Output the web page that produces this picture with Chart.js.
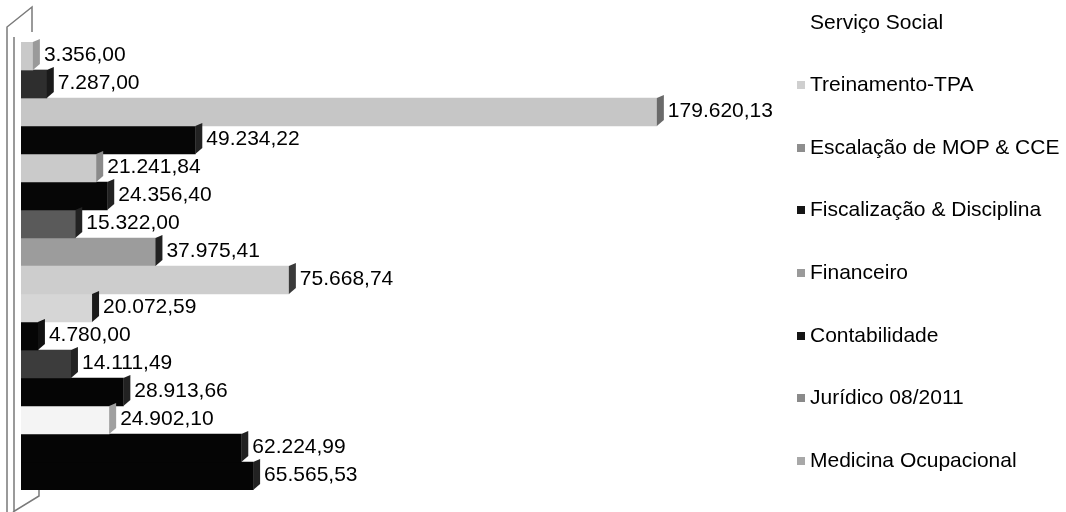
<!DOCTYPE html>
<html>
<head>
<meta charset="utf-8">
<script src="https://cdn.jsdelivr.net/npm/chart.js@4/dist/chart.umd.min.js"></script>
<style>
  body { margin: 0; background: #fff; }
  #wrap { position: relative; width: 1066px; height: 512px; }
  #legend { position: absolute; left: 0; top: 0; font: 21px "Liberation Sans", Arial, sans-serif; color: #000; }
  #legend .row { position: absolute; left: 797px; height: 24px; line-height: 24px; white-space: nowrap; display: flex; align-items: center; }
  #legend .box { width: 8px; height: 8px; margin-right: 5px; margin-top: 2px; }
</style>
</head>
<body>
<div id="wrap">
  <canvas id="chart" width="1066" height="512"></canvas>
  <div id="legend"></div>
</div>
<script>
// two periods (axis labels are not shown in the original)
const categories = ['1', '2'];

const seriesNames = [
  'Serviço Social',
  'Treinamento-TPA',
  'Escalação de MOP & CCE',
  'Fiscalização & Disciplina',
  'Financeiro',
  'Contabilidade',
  'Jurídico 08/2011',
  'Medicina Ocupacional'
];

// one value per period, per series
const servicoSocial   = [3356.00, 75668.74];
const treinamento     = [7287.00, 20072.59];
const escalacao       = [179620.13, 4780.00];
const fiscalizacao    = [49234.22, 14111.49];
const financeiro      = [21241.84, 28913.66];
const contabilidade   = [24356.40, 24902.10];
const juridico        = [15322.00, 62224.99];
const medicina        = [37975.41, 65565.53];

const seriesValues = [servicoSocial, treinamento, escalacao, fiscalizacao,
                      financeiro, contabilidade, juridico, medicina];

// grey shades as they come out in the scan, per bar
const barColors = [
  ['#c9c9c9', '#cdcdcd'],
  ['#2e2e2e', '#d6d6d6'],
  ['#c6c6c6', '#050505'],
  ['#060606', '#3c3c3c'],
  ['#cacaca', '#050505'],
  ['#060606', '#f4f4f4'],
  ['#5a5a5a', '#050505'],
  ['#9c9c9c', '#050505']
];
const sideColors = [
  ['#9a9a9a', '#3a3a3a'],
  ['#1a1a1a', '#1a1a1a'],
  ['#6a6a6a', '#111111'],
  ['#222222', '#222222'],
  ['#8a8a8a', '#222222'],
  ['#222222', '#a0a0a0'],
  ['#222222', '#222222'],
  ['#222222', '#222222']
];
const legendColors = ['#ffffff', '#cfcfcf', '#8e8e8e', '#151515', '#9a9a9a', '#151515', '#8a8a8a', '#a8a8a8'];

function fmt(v) {
  const parts = v.toFixed(2).split('.');
  return parts[0].replace(/\B(?=(\d{3})+(?!\d))/g, '.') + ',' + parts[1];
}

// thin 3D wall on the left of the plot
const wallPlugin = {
  id: 'wall',
  beforeDatasetsDraw(chart) {
    const { ctx, chartArea: a } = chart;
    ctx.save();
    ctx.strokeStyle = '#7a7a7a';
    ctx.lineWidth = 1.5;
    const l = a.left - 14, r = a.left - 7;
    ctx.beginPath();
    ctx.moveTo(l, a.bottom + 22);
    ctx.lineTo(l, a.top - 15);
    ctx.lineTo(a.left + 11, a.top - 35);
    ctx.lineTo(a.left + 11, a.top - 10);
    ctx.moveTo(r, a.bottom + 22);
    ctx.lineTo(r, a.top - 5);
    ctx.moveTo(l + 6, a.bottom + 22);
    ctx.lineTo(a.left + 18, a.bottom + 6);
    ctx.lineTo(a.left + 18, a.bottom);
    ctx.stroke();
    ctx.restore();
  }
};

// side faces and value labels
const barLabels = {
  id: 'barLabels',
  afterDatasetsDraw(chart) {
    const { ctx } = chart;
    ctx.save();
    chart.data.datasets.forEach((ds, di) => {
      const meta = chart.getDatasetMeta(di);
      meta.data.forEach((bar, i) => {
        const h = bar.height, d = 7;
        const top = bar.y - h / 2, bottom = bar.y + h / 2;
        ctx.fillStyle = sideColors[di][i];
        ctx.beginPath();
        ctx.moveTo(bar.x, top);
        ctx.lineTo(bar.x + d, top - 3);
        ctx.lineTo(bar.x + d, bottom - 6);
        ctx.lineTo(bar.x, bottom);
        ctx.closePath();
        ctx.fill();
      });
    });
    ctx.fillStyle = '#000';
    ctx.font = '21px "Liberation Sans", Arial, sans-serif';
    ctx.textBaseline = 'middle';
    chart.data.datasets.forEach((ds, di) => {
      const meta = chart.getDatasetMeta(di);
      meta.data.forEach((bar, i) => {
        ctx.fillText(fmt(ds.data[i]), bar.x + 11, bar.y - 1);
      });
    });
    ctx.restore();
  }
};

const chart = new Chart(document.getElementById('chart'), {
  type: 'bar',
  data: {
    labels: categories,
    datasets: seriesNames.map((name, i) => ({
      label: name,
      data: seriesValues[i],
      backgroundColor: barColors[i],
      borderWidth: 0,
      barPercentage: 1,
      categoryPercentage: 1
    }))
  },
  options: {
    responsive: false,
    animation: false,
    indexAxis: 'y',
    layout: { padding: { left: 21, right: 337, top: 42, bottom: 22 } },
    plugins: {
      legend: { display: false },
      tooltip: { enabled: false }
    },
    scales: {
      x: { display: false, min: 0, max: 200000 },
      y: { display: false }
    }
  },
  plugins: [wallPlugin, barLabels]
});

// legend on the right
const legendEl = document.getElementById('legend');
seriesNames.forEach((name, i) => {
  const row = document.createElement('div');
  row.className = 'row';
  row.style.top = (21.5 + i * 62.6 - 12) + 'px';
  const box = document.createElement('span');
  box.className = 'box';
  box.style.background = legendColors[i];
  const txt = document.createElement('span');
  txt.textContent = name;
  row.appendChild(box);
  row.appendChild(txt);
  legendEl.appendChild(row);
});
</script>
</body>
</html>
